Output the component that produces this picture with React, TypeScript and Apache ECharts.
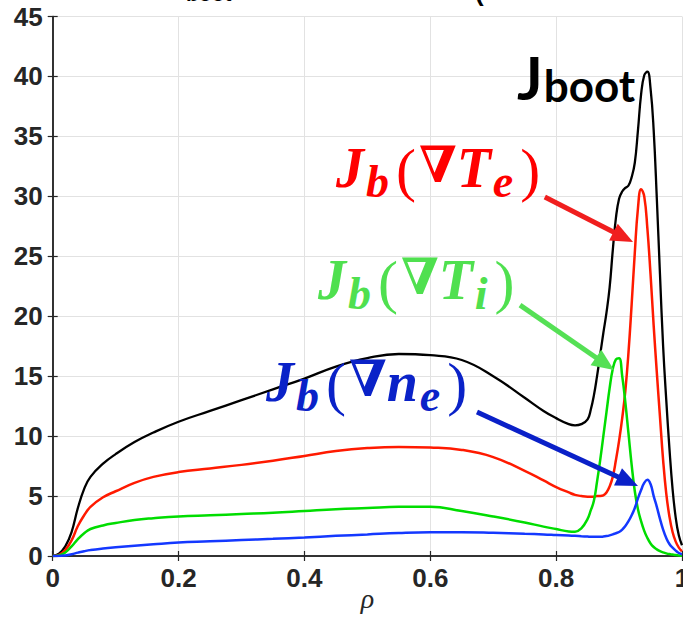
import React, { useEffect, useRef } from "react";
import * as echarts from "echarts";

// Normalized radius grid shared by all profiles
const rho = [
  0, 0.01, 0.02, 0.03, 0.04, 0.05, 0.06, 0.08, 0.1, 0.13, 0.16, 0.2,
  0.25, 0.3, 0.35, 0.4, 0.45, 0.5, 0.55, 0.6, 0.65, 0.7, 0.75, 0.78, 0.8,
  0.82, 0.83, 0.84, 0.85, 0.855, 0.86, 0.865, 0.87, 0.875, 0.88, 0.885,
  0.89, 0.895, 0.9, 0.905, 0.91, 0.915, 0.92, 0.925, 0.93, 0.935, 0.94,
  0.945, 0.95, 0.955, 0.96, 0.965, 0.97, 0.975, 0.98, 0.985, 0.99, 0.995, 1.0,
];

// Total bootstrap current density
const jBoot = [
  0, 0.2, 0.8, 2.0, 4.0, 5.6, 6.6, 7.7, 8.5, 9.5, 10.3, 11.2,
  12.1, 13.0, 13.9, 14.8, 15.8, 16.5, 16.85, 16.75, 16.35, 15.0, 13.2, 12.1, 11.5,
  11.0, 10.9, 11.0, 11.4, 12.2, 13.4, 15.0, 16.8, 18.6, 20.3, 22.4,
  25.5, 28.2, 29.8, 30.4, 30.7, 30.9, 31.6, 32.8, 35.5, 38.5, 40.1,
  40.4, 39.0, 35.5, 29.8, 23.5, 17.5, 13.0, 9.0, 5.6, 3.2, 1.7, 0.9,
];

// Electron temperature gradient contribution
const jTe = [
  0, 0.1, 0.5, 1.3, 2.5, 3.4, 4.1, 4.9, 5.4, 6.1, 6.6, 7.0,
  7.3, 7.6, 7.95, 8.35, 8.75, 9.0, 9.1, 9.05, 8.85, 8.25, 7.1, 6.3, 5.75,
  5.3, 5.1, 5.0, 4.95, 4.95, 4.95, 5.0, 5.0, 5.05, 5.3, 5.8,
  6.6, 8.0, 9.6, 11.5, 13.8, 17.0, 21.0, 25.3, 29.0, 30.6, 30.0,
  27.3, 23.5, 19.2, 15.3, 11.6, 8.0, 5.2, 3.3, 2.0, 1.2, 0.7, 0.4,
];

// Ion temperature gradient contribution
const jTi = [
  0, 0.05, 0.3, 0.8, 1.4, 1.9, 2.25, 2.55, 2.75, 3.0, 3.15, 3.3,
  3.4, 3.5, 3.6, 3.75, 3.9, 4.0, 4.1, 4.1, 3.75, 3.3, 2.8, 2.45, 2.25,
  2.05, 2.03, 2.3, 3.1, 3.8, 4.6, 6.2, 8.0, 10.0, 12.0, 14.0,
  15.6, 16.4, 16.5, 15.0, 12.8, 10.2, 7.6, 5.4, 3.9, 2.9, 2.1,
  1.5, 1.05, 0.75, 0.55, 0.4, 0.3, 0.22, 0.16, 0.12, 0.08, 0.05, 0.03,
];

// Electron density gradient contribution
const jNe = [
  0, 0.0, 0.05, 0.15, 0.28, 0.4, 0.5, 0.63, 0.73, 0.86, 0.98, 1.12,
  1.22, 1.33, 1.43, 1.55, 1.68, 1.8, 1.92, 1.98, 1.98, 1.93, 1.85, 1.8, 1.75,
  1.7, 1.68, 1.65, 1.62, 1.6, 1.6, 1.6, 1.6, 1.62, 1.66, 1.72,
  1.8, 1.9, 2.0, 2.2, 2.5, 2.9, 3.4, 4.0, 4.8, 5.5, 6.1,
  6.35, 6.0, 5.0, 4.1, 3.1, 2.2, 1.5, 1.0, 0.7, 0.45, 0.25, 0.15,
];

// Annotation arrows: [start, head] in (rho, J) coordinates
const arrowTe = [[0.782, 29.94], [0.9066, 26.6]];
const arrowTi = [[0.7426, 20.93], [0.8776, 16.04]];
const arrowNe = [[0.6742, 12.01], [0.9142, 6.22]];

const AXIS_COLOR = "#262626";
const SANS = "'Liberation Sans', Arial, Helvetica, sans-serif";
const SERIF = "'Liberation Serif', 'DejaVu Serif', 'Times New Roman', serif";

function mathLabel(x: number, y: number, color: string, parts: string) {
  return {
    type: "text",
    x,
    y,
    z: 100,
    style: {
      text: parts,
      fill: color,
      align: "left",
      verticalAlign: "top",
      rich: {
        m: { fontFamily: SERIF, fontSize: 56, fontStyle: "italic", fontWeight: "bold", lineHeight: 64, verticalAlign: "top", fill: color },
        s: { fontFamily: SERIF, fontSize: 46, fontStyle: "italic", fontWeight: "bold", lineHeight: 32, verticalAlign: "bottom", fill: color, padding: [0, 4, 0, 2] },
        p: { fontFamily: SERIF, fontSize: 60, fontWeight: "normal", lineHeight: 64, verticalAlign: "top", fill: color, padding: [0, 3, 0, 3] },
        g: { fontFamily: SERIF, fontSize: 50, fontWeight: "bold", lineHeight: 64, verticalAlign: "top", fill: color },
      },
    },
  };
}

export default function App() {
  const ref = useRef<HTMLDivElement>(null);

  useEffect(() => {
    const chart = echarts.init(ref.current!, null, { renderer: "svg" });
    const pairs = (ys: number[]) => rho.map((x, i) => [x, ys[i]]);

    const arrow = (pts: number[][], color: string) => ({
      silent: true,
      symbol: ["none", "triangle"],
      symbolSize: [19, 22],
      label: { show: false },
      lineStyle: { color, width: 5, type: "solid" },
      emphasis: { disabled: true },
      data: [[{ coord: pts[0] }, { coord: pts[1] }]],
    });

    const line = (name: string, ys: number[], color: string, width: number, mark?: any) => ({
      name,
      type: "line",
      data: pairs(ys),
      showSymbol: false,
      smooth: 0.45,
      lineStyle: { color, width },
      itemStyle: { color },
      markLine: mark,
    });

    const tickLabel = { fontFamily: SANS, fontWeight: "bold", fontSize: 26, color: AXIS_COLOR };

    chart.setOption({
      animation: false,
      backgroundColor: "#ffffff",
      grid: { left: 52.7, right: 1, top: 16.5, bottom: 62, containLabel: false, outerBoundsMode: "none" },
      xAxis: [
        {
          type: "value",
          min: 0,
          max: 1,
          interval: 0.2,
          name: "ρ",
          nameLocation: "middle",
          nameGap: 28,
          nameMoveOverlap: false,
          nameTextStyle: { fontFamily: SERIF, fontStyle: "italic", fontSize: 28, color: AXIS_COLOR },
          axisLine: { lineStyle: { color: AXIS_COLOR, width: 1.5 } },
          axisTick: { inside: true, length: 5, lineStyle: { color: AXIS_COLOR, width: 1.2 } },
          axisLabel: { ...tickLabel, margin: 9 },
          splitLine: { show: true, lineStyle: { color: "#e2e2e2", width: 1 } },
        },
        {
          type: "value",
          position: "top",
          min: 0,
          max: 1,
          interval: 0.2,
          axisLine: { lineStyle: { color: AXIS_COLOR, width: 1.5 } },
          axisTick: { inside: true, length: 5, lineStyle: { color: AXIS_COLOR, width: 1.2 } },
          axisLabel: { show: false },
          splitLine: { show: false },
        },
      ],
      yAxis: [
        {
          type: "value",
          min: 0,
          max: 45,
          interval: 5,
          axisLine: { show: true, lineStyle: { color: AXIS_COLOR, width: 1.5 } },
          axisTick: { show: true, inside: true, length: 5, lineStyle: { color: AXIS_COLOR, width: 1.2 } },
          axisLabel: { ...tickLabel, margin: 10 },
          splitLine: { show: true, lineStyle: { color: "#e2e2e2", width: 1 } },
        },
        {
          type: "value",
          position: "right",
          min: 0,
          max: 45,
          interval: 5,
          axisLine: { show: true, lineStyle: { color: AXIS_COLOR, width: 1.5 } },
          axisTick: { show: true, inside: true, length: 5, lineStyle: { color: AXIS_COLOR, width: 1.2 } },
          axisLabel: { show: false },
          splitLine: { show: false },
        },
      ],
      series: [
        line("Jboot", jBoot, "#000000", 2.3),
        line("Jb(∇Te)", jTe, "#ff1a00", 2.5, arrow(arrowTe, "#f01e1e")),
        line("Jb(∇Ti)", jTi, "#00dd00", 2.5, arrow(arrowTi, "#55e055")),
        line("Jb(∇ne)", jNe, "#1438ff", 2.5, arrow(arrowNe, "#0a20c8")),
      ],
      graphic: [
        // Lower edge of the heading, clipped by the top of the canvas
        {
          type: "text",
          x: 186,
          y: 4,
          style: { text: "boot", font: `bold 21px ${SANS}`, fill: "#000", verticalAlign: "bottom", align: "left" },
        },
        {
          type: "text",
          x: 475,
          y: 5,
          style: { text: "(", font: `bold 26px ${SANS}`, fill: "#000", verticalAlign: "bottom", align: "left" },
        },
        {
          type: "text",
          x: 517,
          y: 47,
          z: 100,
          style: {
            text: "{j|J}{b|boot}",
            align: "left",
            verticalAlign: "top",
            rich: {
              j: { fontFamily: "Lato, 'Open Sans', sans-serif", fontWeight: "bold", fontSize: 60, lineHeight: 60, verticalAlign: "top", fill: "#000" },
              b: { fontFamily: "Lato, 'Open Sans', sans-serif", fontWeight: "bold", fontSize: 44, lineHeight: 34, verticalAlign: "bottom", fill: "#000", padding: [0, 0, 0, 1] },
            },
          },
        },
        mathLabel(336, 140, "#ff0000", "{m|J}{s|b}{p|(}{g|∇}{m|T}{s|e}{p|)}"),
        mathLabel(318, 252, "#4fe04f", "{m|J}{s|b}{p|(}{g|∇}{m|T}{s|i}{p|)}"),
        mathLabel(266, 354, "#0a22c8", "{m|J}{s|b}{p|(}{g|∇}{m|n}{s|e}{p|)}"),
      ],
    });

    return () => chart.dispose();
  }, []);

  return (
    <div
      ref={ref}
      style={{ position: "fixed", left: 0, top: 0, width: 683, height: 618, background: "#fff" }}
    />
  );
}
